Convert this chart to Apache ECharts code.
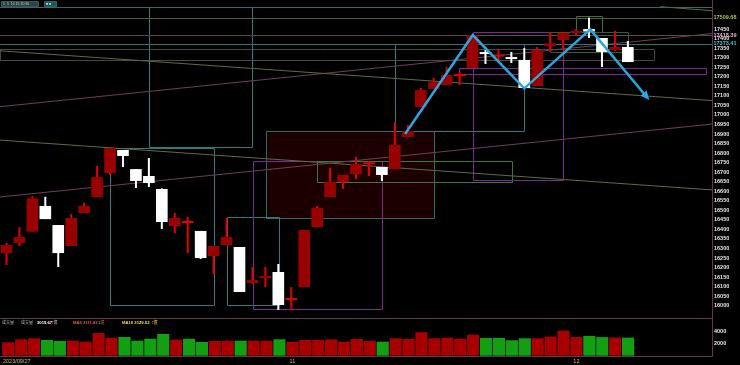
<!DOCTYPE html>
<html><head><meta charset="utf-8">
<script src="https://cdn.jsdelivr.net/npm/echarts@6/dist/echarts.min.js"></script>
<style>html,body{margin:0;padding:0;background:#000;}#c{width:740px;height:365px;}</style>
</head><body><div id="c"></div>
<script>
// ---------- data ----------
const dates = ['2023/09/27','2023/09/28','2023/10/02','2023/10/03','2023/10/04','2023/10/05','2023/10/06','2023/10/11','2023/10/12','2023/10/13',
'2023/10/16','2023/10/17','2023/10/18','2023/10/19','2023/10/20','2023/10/23','2023/10/24','2023/10/25','2023/10/26','2023/10/27',
'2023/10/30','2023/10/31','2023/11/01','2023/11/02','2023/11/03','2023/11/06','2023/11/07','2023/11/08','2023/11/09','2023/11/10',
'2023/11/13','2023/11/14','2023/11/15','2023/11/16','2023/11/17','2023/11/20','2023/11/21','2023/11/22','2023/11/23','2023/11/24',
'2023/11/27','2023/11/28','2023/11/29','2023/11/30','2023/12/01','2023/12/04','2023/12/05','2023/12/06','2023/12/07'];
const openP  = [16276,16329,16388,16523,16423,16313,16486,16570,16695,16816,16716,16680,16612,16418,16434,16392,16260,16318,16308,16119,
16145,16177,16030,16098,16412,16570,16648,16690,16743,16727,16716,16884,17041,17136,17157,17205,17246,17326,17308,17300,
17288,17151,17360,17392,17429,17450,17403,17340,17356];
const closeP = [16318,16360,16563,16454,16276,16460,16523,16674,16826,16785,16654,16643,16439,16460,16444,16250,16313,16360,16072,16135,
16156,16004,16040,16397,16512,16648,16685,16743,16750,16685,16842,16916,17130,17172,17209,17212,17418.39,17322,17314,17296,
17141,17340,17375,17429,17440,17437,17330,17356,17277];
const highP  = [16329,16412,16575,16571,16423,16481,16540,16732,16826,16816,16716,16774,16615,16486,16465,16392,16313,16460,16308,16203,
16203,16219,16098,16397,16523,16722,16685,16779,16758,16727,16963,16947,17141,17193,17251,17225,17418.39,17340,17345,17330,
17350,17356,17434,17434,17450,17509.68,17403,17440,17387];
const lowP   = [16213,16313,16385,16454,16203,16313,16486,16570,16685,16727,16617,16622,16402,16381,16276,16245,16166,16318,16072,16115,
16098,15978,15978,16098,16412,16570,16612,16664,16680,16654,16716,16884,17041,17136,17157,17157,17246,17267,17272,17272,
17141,17151,17330,17340,17419,17403,17251,17335,17277];
const volume = [2230,2730,2900,2620,2450,2500,2330,3780,3000,3120,2500,2830,3620,2670,2830,2280,2450,2500,2500,2500,
2500,2730,2280,2620,2620,2730,2330,2780,2500,2330,2900,2780,3900,2900,3000,2830,3500,2950,2970,2570,
2900,2900,3170,4170,3100,3300,3100,3040,3019.67];
const blankSlots = 6;
const priceAxis = {min: 15950, max: 17600, step: 50, showFrom: 16000, showTo: 17450};
const volAxis = {min: 0, max: 6000, step: 2000};
const volHeader = {vol: '3019.67', ma5: '3111.83', ma10: '3129.52'};

// annotation drawings, in [index, price]
const hLines = [
  {p: 17564, from: -0.5, to: 54.5, c: '#2f6c6c'},
  {p: 17509.68, from: -0.5, to: 54.5, c: '#4e5e46', label: '17509.68', lc: '#a9c45a'},
  {p: 17418.39, from: -0.5, to: 54.5, c: '#584854', label: '17418.39', lc: '#e2b4c8'},
  {p: 17373.41, from: -0.5, to: 54.5, c: '#2a7676', label: '17373.41', lc: '#3cc8d0'}
];
const trendLines = [
  {a: [-0.5, 16868], b: [54.5, 16607], c: '#5f6f38'},
  {a: [-0.5, 16570], b: [54.5, 16952], c: '#6e3f5e'},
  {a: [-0.5, 17043], b: [54.5, 17426], c: '#6e3f5e'},
  {a: [-0.5, 17336], b: [54.5, 17075], c: '#5f6f38'},
  {a: [50.5, 17567], b: [54.5, 17546], c: '#5f6f38'}
];
const boxes = [
  {a: [-0.5, 17343.6], b: [50.0, 17283.9], c: '#474747'},
  {a: [20.03, 16917], b: [33.03, 16463], c: '#2f6a6a', fill: '#1c0000'},
  {a: [11.03, 17564], b: [19.02, 16828], c: '#2f7a7a'},
  {a: [8.0, 16828], b: [16.03, 16004], c: '#2f7a7a'},
  {a: [17.04, 16465], b: [21.05, 16004], c: '#2f7a7a'},
  {a: [19.02, 16760], b: [29.01, 15985], c: '#7a2a92'},
  {a: [23.99, 16760], b: [39.03, 16651], c: '#3a7a36'},
  {a: [30.01, 17373.41], b: [39.98, 16917], c: '#2f7a7a'},
  {a: [36.02, 17432], b: [42.99, 16659], c: '#7a2a92'},
  {a: [34.96, 17244], b: [54.04, 17214], c: '#7a2a92'},
  {a: [43.99, 17518], b: [46.0, 17436], c: '#4a6a34'},
  {a: [41.99, 17436], b: [48.01, 17331], c: '#355f2a'}
];
const zigzag = [[30.79, 16900], [36.02, 17418.6], [40.0, 17139.3], [45.1, 17448.4], [49.66, 17078]];

// ---------- chart ----------
const chart = echarts.init(document.getElementById('c'), null, {renderer: 'canvas'});
const nSlots = dates.length + blankSlots;
const catData = dates.concat(new Array(blankSlots).fill(''));
const volColors = volume.map((v, k) => (k === 0 || closeP[k] >= closeP[k - 1]) ? '#a80000' : '#12a012');

const shapes = [];
boxes.forEach(b => shapes.push({t: 'box', ...b}));
trendLines.forEach(l => shapes.push({t: 'line', ...l}));
hLines.forEach(h => shapes.push({t: 'h', ...h}));

function renderShape(params, api) {
  const s = shapes[params.dataIndex];
  if (s.t === 'box') {
    const p1 = api.coord(s.a), p2 = api.coord(s.b);
    const x = Math.round(Math.min(p1[0], p2[0])) + 0.5, y = Math.round(Math.min(p1[1], p2[1])) + 0.5;
    const w = Math.round(Math.abs(p2[0] - p1[0])), h = Math.round(Math.abs(p2[1] - p1[1]));
    return {type: 'rect', shape: {x, y, width: w, height: h},
      style: {fill: s.fill || 'none', stroke: s.c, lineWidth: 1}};
  }
  if (s.t === 'line') {
    const p1 = api.coord(s.a), p2 = api.coord(s.b);
    return {type: 'line', shape: {x1: p1[0], y1: p1[1], x2: p2[0], y2: p2[1]}, style: {stroke: s.c, lineWidth: 1}};
  }
  const p1 = api.coord([s.from, s.p]), p2 = api.coord([s.to, s.p]);
  const y = Math.round(p1[1]) + 0.5;
  const ch = [{type: 'line', shape: {x1: p1[0], y1: y, x2: p2[0], y2: y}, style: {stroke: s.c, lineWidth: 1}}];
  if (s.label) ch.push({type: 'text', x: p2[0] + 1.5, y: p1[1],
    style: {text: s.label, fill: s.lc, font: 'bold 5.5px "Liberation Sans", Arial, sans-serif', textVerticalAlign: 'middle', textAlign: 'left'}});
  return {type: 'group', children: ch};
}

function renderCandle(params, api) {
  const i = api.value(0), o = api.value(1), c = api.value(2), lo = api.value(3), hi = api.value(4);
  const w = api.size([1, 0])[0] * 0.9;
  const pO = api.coord([i, o]), pC = api.coord([i, c]);
  const yL = api.coord([i, lo])[1], yH = api.coord([i, hi])[1];
  const x = pO[0];
  const up = c > o;
  const wick = up ? '#e40000' : '#ffffff';
  let top = Math.min(pO[1], pC[1]), h = Math.abs(pO[1] - pC[1]);
  let body = up ? '#990000' : '#ffffff';
  if (h < 2) { top = (pO[1] + pC[1]) / 2 - 1; h = 2; body = wick; }
  return {type: 'group', children: [
    {type: 'line', shape: {x1: x, y1: yH, x2: x, y2: yL}, style: {stroke: wick, lineWidth: 2}},
    {type: 'rect', shape: {x: x - w / 2, y: top, width: w, height: h}, style: {fill: body}}
  ]};
}

function renderZigzag(params, api) {
  const pts = zigzag.map(p => api.coord(p));
  const n = pts.length;
  const a = pts[n - 2], b = pts[n - 1];
  const dx = b[0] - a[0], dy = b[1] - a[1], len = Math.hypot(dx, dy);
  const ux = dx / len, uy = dy / len, L = 9, W = 4;
  const bx = b[0] - ux * L, by = b[1] - uy * L;
  const linePts = pts.slice(0, n - 1).concat([[b[0] - ux * 4, b[1] - uy * 4]]);
  return {type: 'group', children: [
    {type: 'polyline', shape: {points: linePts}, style: {stroke: '#2ba6e0', lineWidth: 2.5, fill: 'none', lineJoin: 'miter'}},
    {type: 'polygon', shape: {points: [b, [bx - uy * W, by + ux * W], [bx + uy * W, by - ux * W]]}, style: {fill: '#2ba6e0'}}
  ]};
}

const axisFont = {fontFamily: '"Liberation Sans", Arial, sans-serif', fontWeight: 'bold', fontSize: 5.5, color: '#e6e6e6'};
const frameColor = '#5e3a4c';
const minLabelGap = 8;

const option = {
  backgroundColor: '#000',
  animation: false,
  grid: [
    {left: 0, right: 28, top: 0.4, height: 314.9},
    {left: 0, right: 28, top: 319.7, height: 36}
  ],
  xAxis: [
    {type: 'value', gridIndex: 0, min: -0.5, max: nSlots - 0.5, show: false},
    {type: 'category', gridIndex: 1, data: catData, boundaryGap: true,
      axisLine: {show: false}, axisTick: {show: false}, splitLine: {show: false},
      axisLabel: {
        margin: 2.5, color: '#c8c25a', fontSize: 5.5, fontFamily: '"Liberation Sans", Arial, sans-serif',
        interval: (k, v) => k === 0 || (v !== '' && k > minLabelGap && v.slice(5, 7) !== catData[k - 1].slice(5, 7)),
        formatter: (v, k) => k === 0 ? '{a|' + v + '}' : String(parseInt(v.slice(5, 7), 10)),
        rich: {a: {padding: [0, 0, 0, 17], color: '#c8c25a', fontSize: 5.5, fontFamily: '"Liberation Sans", Arial, sans-serif'}}
      }}
  ],
  yAxis: [
    {type: 'value', gridIndex: 0, position: 'right', min: priceAxis.min, max: priceAxis.max, interval: priceAxis.step,
      axisLine: {show: false}, axisTick: {show: false}, splitLine: {show: false},
      axisLabel: {...axisFont, margin: 2, formatter: v => (v < priceAxis.showFrom || v > priceAxis.showTo) ? '' : String(v)}},
    {type: 'value', gridIndex: 1, position: 'right', min: volAxis.min, max: volAxis.max, interval: volAxis.step,
      axisLine: {show: false}, axisTick: {show: false}, splitLine: {show: false},
      axisLabel: {...axisFont, margin: 2, formatter: v => (v <= volAxis.min || v >= volAxis.max) ? '' : String(v)}}
  ],
  series: [
    {type: 'custom', name: 'drawings', xAxisIndex: 0, yAxisIndex: 0, z: 1, silent: true,
      data: shapes.map((s, k) => [k]), encode: {x: 0}, renderItem: renderShape},
    {type: 'custom', name: 'K', xAxisIndex: 0, yAxisIndex: 0, z: 2,
      data: dates.map((d, k) => [k, openP[k], closeP[k], lowP[k], highP[k]]),
      encode: {x: 0, y: [1, 2, 3, 4]}, renderItem: renderCandle},
    {type: 'custom', name: 'wave', xAxisIndex: 0, yAxisIndex: 0, z: 3, silent: true,
      data: [[0]], encode: {x: 0}, renderItem: renderZigzag},
    {type: 'bar', name: '成交量', xAxisIndex: 1, yAxisIndex: 1, barCategoryGap: '6%',
      data: volume.map((v, k) => ({value: v, itemStyle: {color: volColors[k]}}))}
  ],
  graphic: [
    {type: 'line', shape: {x1: 712.5, y1: 0, x2: 712.5, y2: 356.5}, style: {stroke: frameColor, lineWidth: 1}, z: 10},
    {type: 'line', shape: {x1: 0, y1: 318.5, x2: 712.5, y2: 318.5}, style: {stroke: frameColor, lineWidth: 1}, z: 10},
    {type: 'line', shape: {x1: 0, y1: 356.5, x2: 712.5, y2: 356.5}, style: {stroke: frameColor, lineWidth: 1}, z: 10},
    {type: 'rect', shape: {x: 1.5, y: 1.5, width: 37, height: 5}, style: {fill: '#2e4444', stroke: '#557777', lineWidth: 0.6}, z: 10},
    {type: 'text', x: 3, y: 4, style: {text: '1  5  10 15 30 60', fill: '#a8d0d0', font: '3.5px "Liberation Sans", Arial', textVerticalAlign: 'middle'}, z: 11},
    {type: 'rect', shape: {x: 44.5, y: 1.5, width: 12, height: 5}, style: {fill: '#1d5656', stroke: '#3f8a8a', lineWidth: 0.6}, z: 10},
    {type: 'text', x: 46, y: 4, style: {text: '■ ■', fill: '#bfe6e6', font: '3.5px "Liberation Sans", Arial', textVerticalAlign: 'middle'}, z: 11},
    {type: 'text', x: 2, y: 322.5, style: {text: '成交量', fill: '#bdbdbd', font: '4px "Noto Sans CJK TC", sans-serif', textVerticalAlign: 'middle'}, z: 11},
    {type: 'text', x: 21, y: 322.5, style: {text: '成交量', fill: '#bdbdbd', font: '4px "Noto Sans CJK TC", sans-serif', textVerticalAlign: 'middle'}, z: 11},
    {type: 'text', x: 37, y: 322.5, style: {text: volHeader.vol, fill: '#ffffff', font: 'bold 4.2px "Liberation Sans", Arial', textVerticalAlign: 'middle'}, z: 11},
    {type: 'text', x: 51, y: 322.5, style: {text: '↑', fill: '#ff2a2a', font: 'bold 4.2px "DejaVu Sans"', textVerticalAlign: 'middle'}, z: 11},
    {type: 'text', x: 53.5, y: 322.5, style: {text: '億', fill: '#c8c8c8', font: '4px "Noto Sans CJK TC", sans-serif', textVerticalAlign: 'middle'}, z: 11},
    {type: 'text', x: 73, y: 322.5, style: {text: 'MA5 ' + volHeader.ma5, fill: '#e2622a', font: 'bold 4.2px "Liberation Sans", Arial', textVerticalAlign: 'middle'}, z: 11},
    {type: 'text', x: 98, y: 322.5, style: {text: '↓', fill: '#22cc22', font: 'bold 4.2px "DejaVu Sans"', textVerticalAlign: 'middle'}, z: 11},
    {type: 'text', x: 100.5, y: 322.5, style: {text: '億', fill: '#e2622a', font: '4px "Noto Sans CJK TC", sans-serif', textVerticalAlign: 'middle'}, z: 11},
    {type: 'text', x: 122, y: 322.5, style: {text: 'MA10 ' + volHeader.ma10, fill: '#e8e04a', font: 'bold 4.2px "Liberation Sans", Arial', textVerticalAlign: 'middle'}, z: 11},
    {type: 'text', x: 151, y: 322.5, style: {text: '↑', fill: '#ff2a2a', font: 'bold 4.2px "DejaVu Sans"', textVerticalAlign: 'middle'}, z: 11},
    {type: 'text', x: 153.5, y: 322.5, style: {text: '億', fill: '#e8e04a', font: '4px "Noto Sans CJK TC", sans-serif', textVerticalAlign: 'middle'}, z: 11}
  ]
};
chart.setOption(option);
</script>
</body></html>
